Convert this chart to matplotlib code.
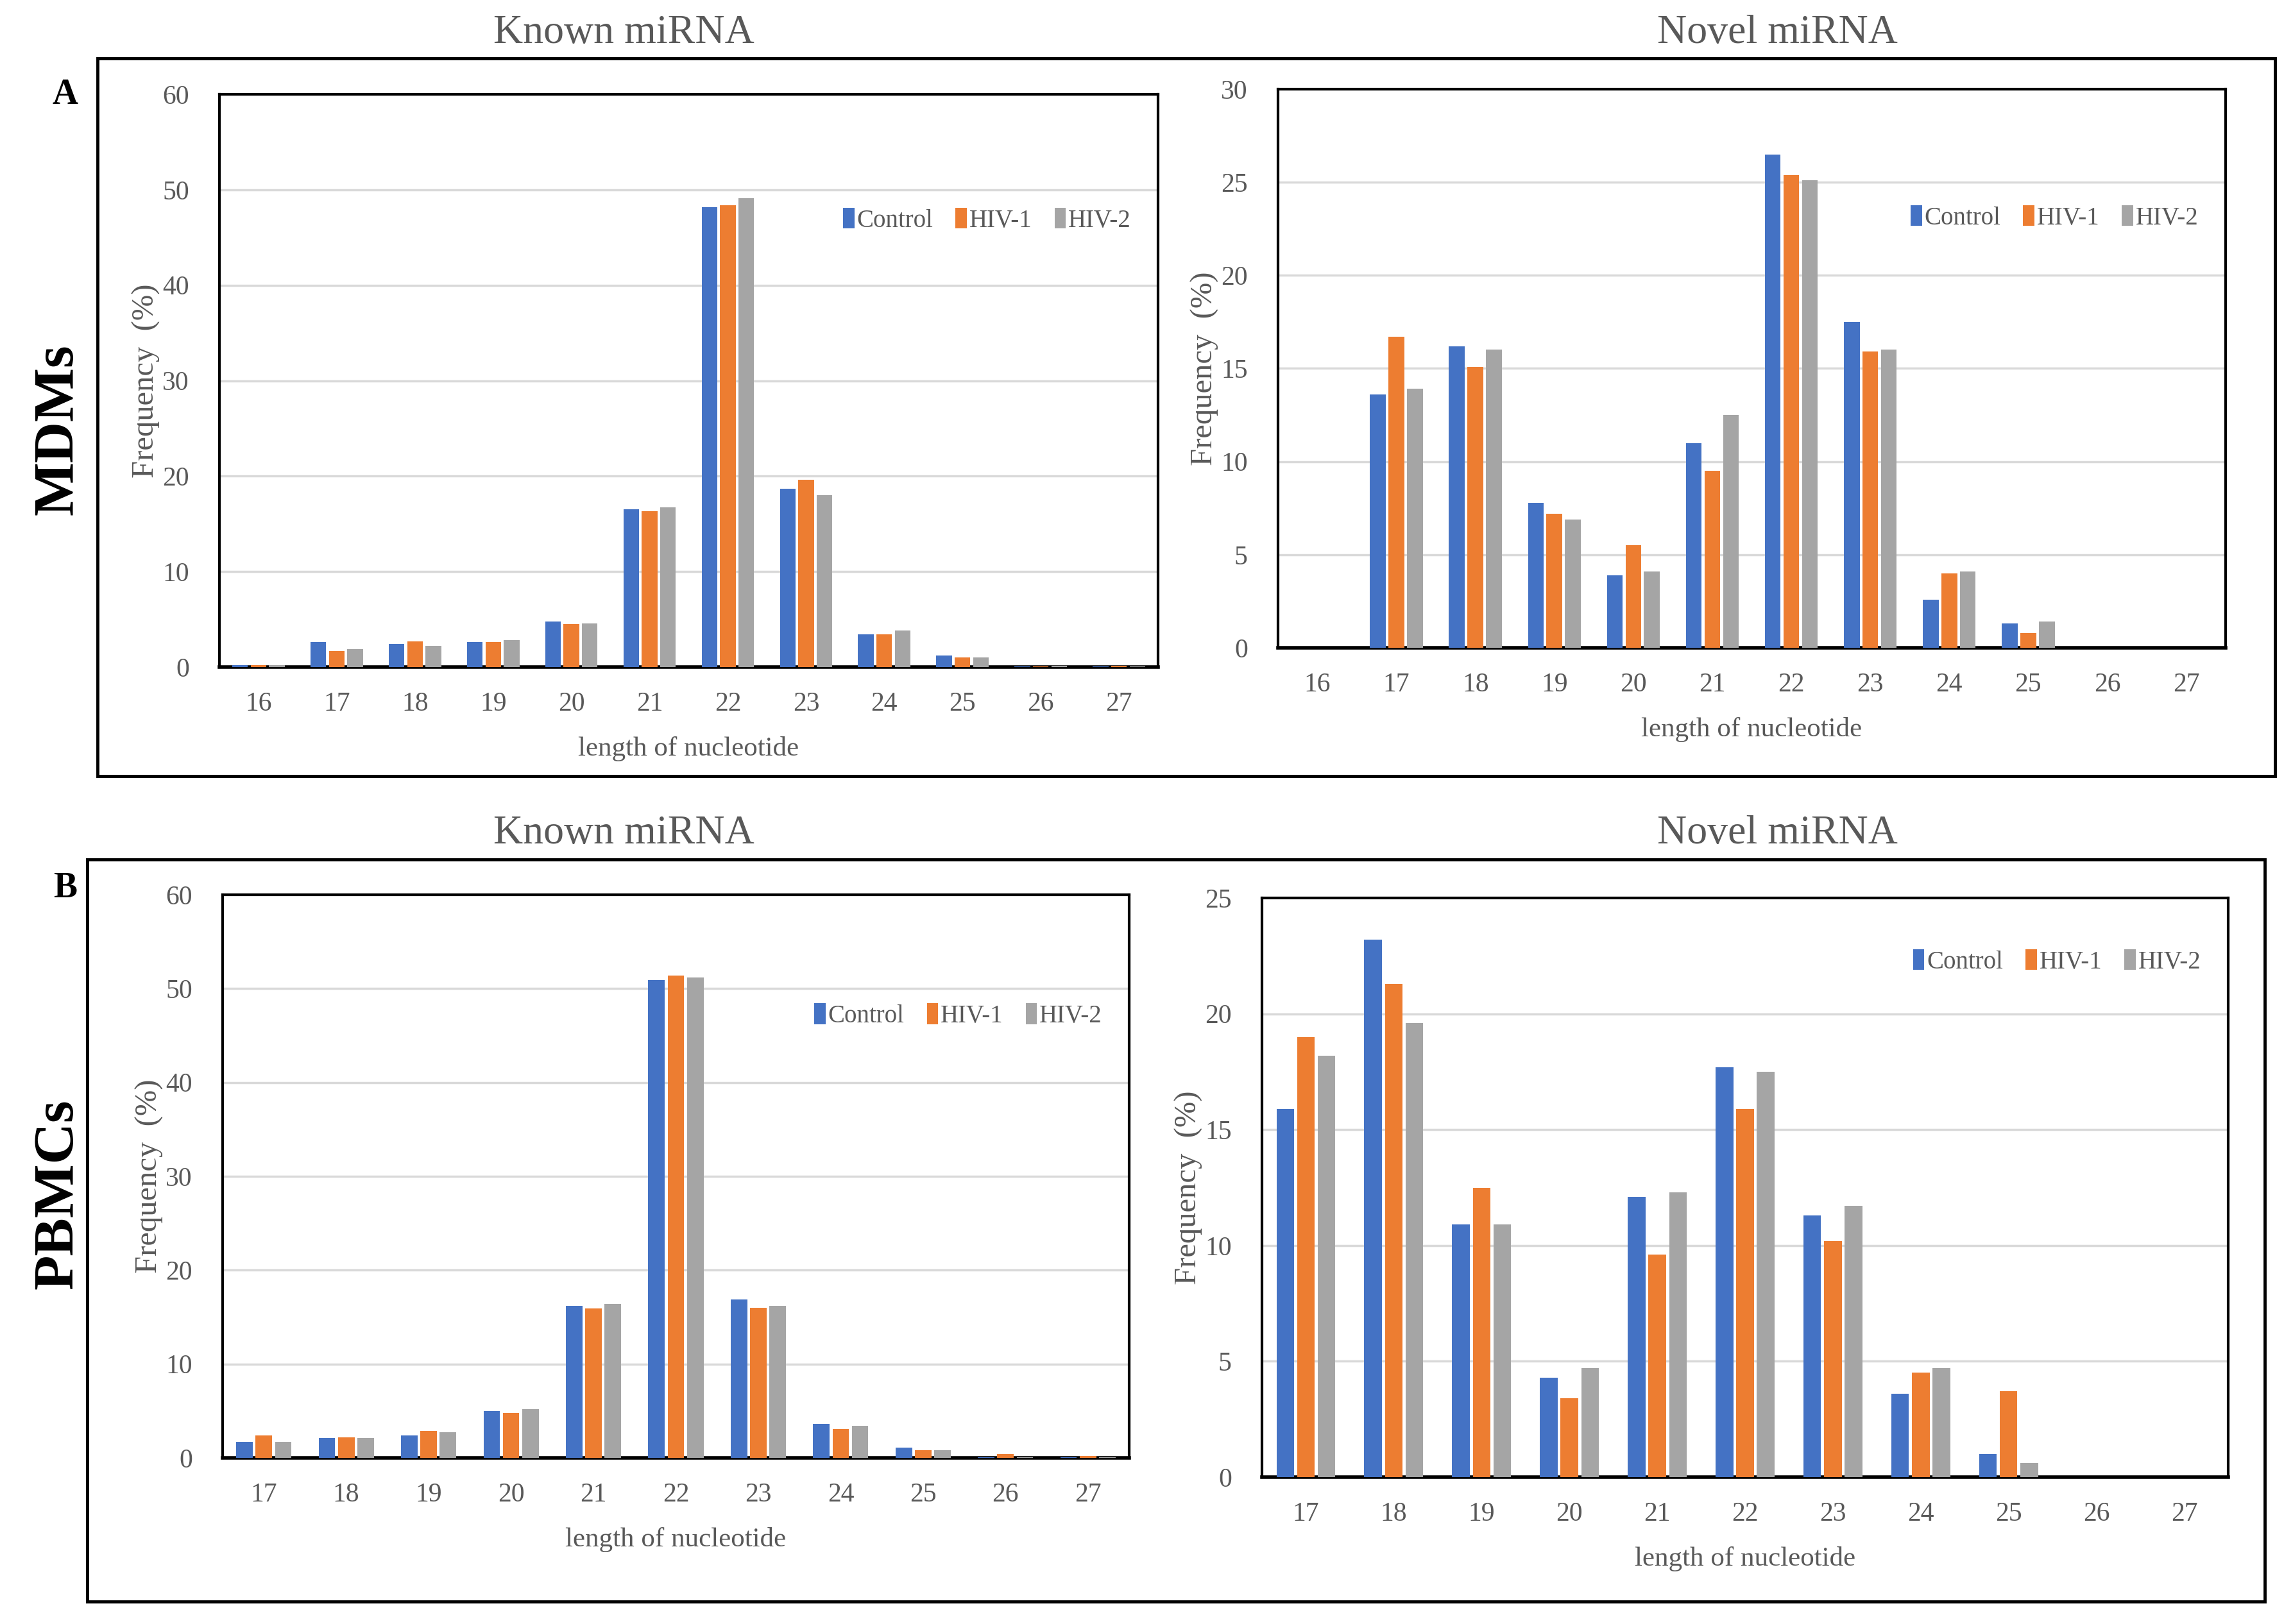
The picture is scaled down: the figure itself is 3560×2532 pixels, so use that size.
import numpy as np
import matplotlib
matplotlib.use("Agg")
from matplotlib import pyplot as plt
from matplotlib.patches import Rectangle

plt.rcParams['font.family'] = ['Liberation Serif', 'DejaVu Serif']

# data
len_a = list(range(16, 28))
len_b = list(range(17, 28))

mdm_known_ctrl = [0.2, 2.6, 2.4, 2.6, 4.8, 16.5, 48.2, 18.7, 3.4, 1.2, 0.05, 0.05]
mdm_known_hiv1 = [0.2, 1.7, 2.7, 2.6, 4.5, 16.3, 48.4, 19.6, 3.4, 1.0, 0.05, 0.15]
mdm_known_hiv2 = [0.2, 1.9, 2.2, 2.8, 4.6, 16.7, 49.1, 18.0, 3.8, 1.0, 0.15, 0.05]

mdm_novel_ctrl = [0, 13.6, 16.2, 7.8, 3.9, 11.0, 26.5, 17.5, 2.6, 1.3, 0, 0]
mdm_novel_hiv1 = [0, 16.7, 15.1, 7.2, 5.5, 9.5, 25.4, 15.9, 4.0, 0.8, 0, 0]
mdm_novel_hiv2 = [0, 13.9, 16.0, 6.9, 4.1, 12.5, 25.1, 16.0, 4.1, 1.4, 0, 0]

pbmc_known_ctrl = [1.7, 2.1, 2.4, 5.0, 16.2, 50.9, 16.9, 3.6, 1.1, 0.1, 0.1]
pbmc_known_hiv1 = [2.4, 2.2, 2.9, 4.8, 15.9, 51.4, 16.0, 3.1, 0.8, 0.4, 0.2]
pbmc_known_hiv2 = [1.7, 2.1, 2.7, 5.2, 16.4, 51.2, 16.2, 3.4, 0.8, 0.1, 0.1]

pbmc_novel_ctrl = [15.9, 23.2, 10.9, 4.3, 12.1, 17.7, 11.3, 3.6, 1.0, 0, 0]
pbmc_novel_hiv1 = [19.0, 21.3, 12.5, 3.4, 9.6, 15.9, 10.2, 4.5, 3.7, 0, 0]
pbmc_novel_hiv2 = [18.2, 19.6, 10.9, 4.7, 12.3, 17.5, 11.7, 4.7, 0.6, 0, 0]

groups = ['Control', 'HIV-1', 'HIV-2']
colors = ['#4472C4', '#ED7D31', '#A5A5A5']

W, H = 3560, 2532
fig = plt.figure(figsize=(W / 100, H / 100), dpi=100)
grey = '#595959'


def box(x0, y0, x1, y1):
    return [x0 / W, 1 - y1 / H, (x1 - x0) / W, (y1 - y0) / H]


def panel(rect, xs, series, ymax, ystep, leg_y):
    ax = fig.add_axes(box(*rect))
    xs = np.array(xs)
    w = 0.2
    for k, (vals, c, lab) in enumerate(zip(series, colors, groups)):
        ax.bar(xs + (k - 1) * 0.235, vals, width=w, color=c, label=lab, zorder=3)
    ax.set_xlim(xs[0] - 0.5, xs[-1] + 0.5)
    ax.set_ylim(0, ymax)
    ax.set_yticks(np.arange(0, ymax + 0.1, ystep))
    ax.set_xticks(xs)
    ax.yaxis.grid(True, color='#D9D9D9', lw=2.5, zorder=0)
    for s in ax.spines.values():
        s.set_linewidth(3)
    ax.spines['bottom'].set_linewidth(4)
    ax.tick_params(length=0, labelsize=30, labelcolor=grey)
    ax.tick_params(axis='x', pad=28)
    ax.tick_params(axis='y', pad=34)
    ax.set_xlabel('length of nucleotide', fontsize=31, color=grey, labelpad=22)
    ax.set_ylabel('Frequency  (%)', fontsize=35, color=grey, labelpad=2)
    ax.legend(loc='center right', bbox_to_anchor=(0.995, leg_y), ncol=3,
              frameon=False, fontsize=28, handlelength=0.45, handleheight=0.9,
              handletextpad=0.1, columnspacing=0.9, labelcolor=grey)
    return ax


panel((342, 147, 1805, 1040), len_a,
      [mdm_known_ctrl, mdm_known_hiv1, mdm_known_hiv2], 60, 10, 0.78)
panel((1992, 139, 3469, 1010), len_a,
      [mdm_novel_ctrl, mdm_novel_hiv1, mdm_novel_hiv2], 30, 5, 0.77)
panel((347, 1395, 1760, 2273), len_b,
      [pbmc_known_ctrl, pbmc_known_hiv1, pbmc_known_hiv2], 60, 10, 0.785)
panel((1967, 1400, 3473, 2303), len_b,
      [pbmc_novel_ctrl, pbmc_novel_hiv1, pbmc_novel_hiv2], 25, 5, 0.89)

# outer frames
for x0, y0, x1, y1 in [(152, 91, 3546, 1210), (136, 1340, 3530, 2497)]:
    fig.patches.append(Rectangle((x0 / W, 1 - y1 / H), (x1 - x0) / W, (y1 - y0) / H,
                                 transform=fig.transFigure, fill=False,
                                 lw=3.5, ec='black'))

for x, y, t in [(972, 52, 'Known miRNA'), (2770, 52, 'Novel miRNA'),
                (972, 1300, 'Known miRNA'), (2770, 1300, 'Novel miRNA')]:
    fig.text(x / W, 1 - y / H, t, ha='center', va='center', fontsize=46, color=grey)

fig.text(102 / W, 1 - 148 / H, 'A', ha='center', va='center', fontsize=40,
         fontweight='bold')
fig.text(102 / W, 1 - 1385 / H, 'B', ha='center', va='center', fontsize=40,
         fontweight='bold')
fig.text(91 / W, 1 - 670 / H, 'MDMs', ha='center', va='center', fontsize=64,
         rotation=90, fontweight='bold')
fig.text(91 / W, 1 - 1862 / H, 'PBMCs', ha='center', va='center', fontsize=64,
         rotation=90, fontweight='bold')

fig.savefig('out.png', dpi=100)
